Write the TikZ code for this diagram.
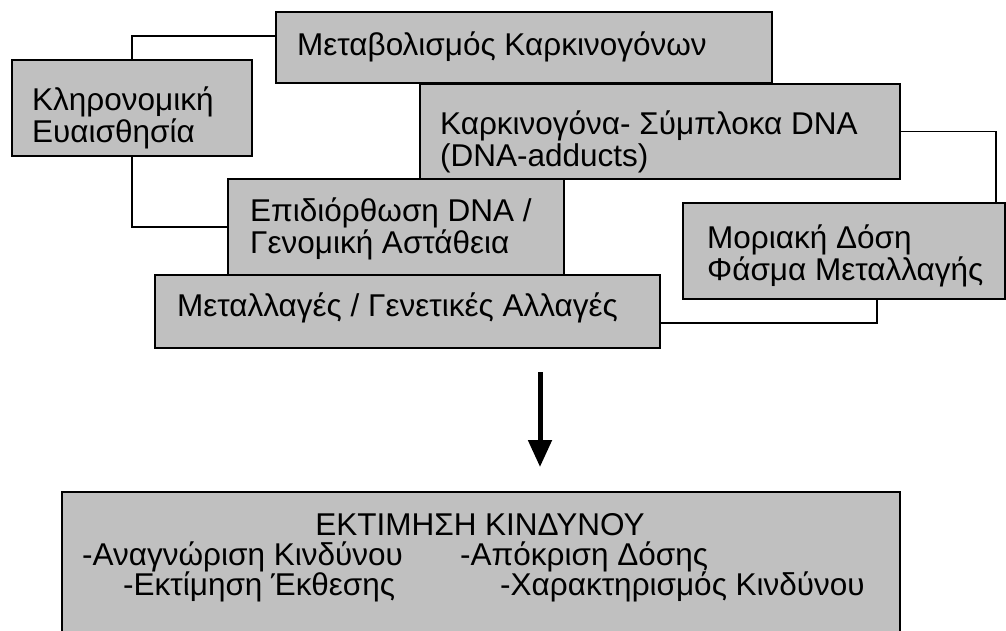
\documentclass[tikz,border=0pt]{standalone}
\usepackage{fontspec}
\setmainfont{Liberation Sans}
\usetikzlibrary{calc,arrows.meta}
\definecolor{boxgray}{RGB}{192,192,192}
\newcommand{\tlines}[2]{\vtop{\hbox{#1}\hbox{#2}}}
\begin{document}
\begin{tikzpicture}[x=1pt,y=-1pt,
  box/.style={draw=black, fill=boxgray, line width=1.8pt, inner sep=0pt, outer sep=0pt, anchor=north west},
  txt/.style={anchor=base west, inner sep=0pt, font=\fontsize{31.5}{32}\selectfont},
  link/.style={line width=1.5pt},
  bigarrow/.style={line width=5pt, -{Triangle[length=27pt,width=23pt]}}]
\useasboundingbox (0,0) rectangle (1006,630);
\clip (0,0) rectangle (1006,630);
% boxes
\node[box, minimum width=496pt, minimum height=71pt] (meta) at (276,12) {};
\node[box, minimum width=480pt, minimum height=95pt] (karkin) at (420,84) {};
\node[box, minimum width=240pt, minimum height=96pt] (klero) at (12,60) {};
\node[box, minimum width=336pt, minimum height=96pt] (epid) at (228,179) {};
\node[box, minimum width=505pt, minimum height=73pt] (metal) at (155,275) {};
\node[box, minimum width=322pt, minimum height=96pt] (moriaki) at (683,203) {};
\node[box, minimum width=838pt, minimum height=160pt] (risk) at (62,492) {};
% texts
\node[txt] (metat) at (297,55) {Μεταβολισμός Καρκινογόνων};
\node[txt] (karkint) at (440,134) {\tlines{Καρκινογόνα- Σύμπλοκα DNA}{(DNA-adducts)}};
\node[txt] (klerot) at (32,110) {\tlines{Κληρονομική}{Ευαισθησία}};
\node[txt] (epidt) at (250,221) {\tlines{Επιδιόρθωση DNA /}{Γενομική Αστάθεια}};
\node[txt] (metalt) at (177,316) {Μεταλλαγές / Γενετικές Αλλαγές};
\node[txt] (moriakit) at (707,248) {\tlines{Μοριακή Δόση}{Φάσμα Μεταλλαγής}};
\node[txt, anchor=base] (riskt) at (480,535) {ΕΚΤΙΜΗΣΗ ΚΙΝΔΥΝΟΥ};
\node[txt] (r1) at (82,565) {-Αναγνώριση Κινδύνου};
\node[txt] (r2) at (460,565) {-Απόκριση Δόσης};
\node[txt] (r3) at (123,595) {-Εκτίμηση Έκθεσης};
\node[txt] (r4) at (500,595) {-Χαρακτηρισμός Κινδύνου};
% connectors
\draw[link] (klero.north) |- ($(meta.north west)+(0,24)$);
\draw[link] (klero.south) |- (epid.west);
\draw[link] (karkin.east) -| ($(moriaki.north west)+(313,0)$);
\draw[link] ($(moriaki.south west)+(194,0)$) |- ($(metal.south east)+(0,-25)$);
% arrow
\coordinate (atop) at (540,372);
\draw[bigarrow] (atop) -- ($(atop |- risk.north)+(0,-25)$);
\end{tikzpicture}
\end{document}
